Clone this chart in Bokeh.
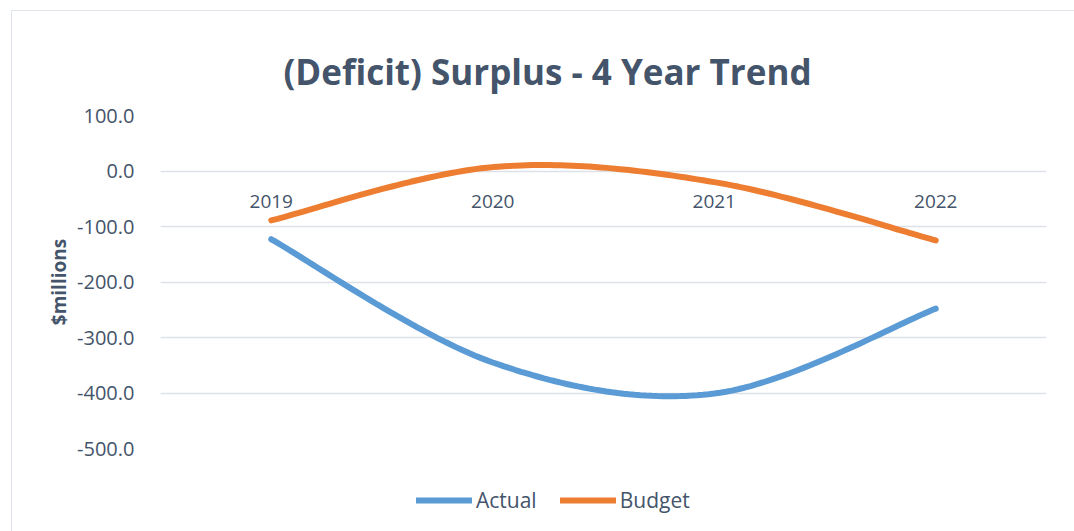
import numpy as np
from bokeh.plotting import figure
from bokeh.layouts import column
from bokeh.models import (Range1d, FixedTicker, NumeralTickFormatter, Legend, LegendItem,
                          ColumnDataSource, Label)
from bokeh.core.properties import value
from bokeh.embed import file_html
from bokeh.resources import INLINE

# ---- data ----
title_text = "(Deficit) Surplus - 4 Year Trend"
years = ["2019", "2020", "2021", "2022"]
actual = [-123, -345, -401, -248]
budget = [-89, 7, -20, -125]
series_names = ["Actual", "Budget"]
y_ticks = [-500, -400, -300, -200, -100, 0, 100]

TEXT = "#44546A"
FONT = "Open Sans"
BLUE = "#5B9BD5"
ORANGE = "#ED7D31"
W = 1062


def smooth(ys, n=40):
    """Excel-like smoothed line (Catmull-Rom as cubic Bezier)."""
    P = np.array([[i, y] for i, y in enumerate(ys)], float)
    m = len(P)
    out = []
    for i in range(m - 1):
        p_prev = P[i - 1] if i > 0 else P[i]
        p_next2 = P[i + 2] if i + 2 < m else P[i + 1]
        c1 = P[i] + (P[i + 1] - p_prev) / 6.0
        c2 = P[i + 1] - (p_next2 - P[i]) / 6.0
        t = np.linspace(0, 1, n)[:, None]
        seg = ((1 - t) ** 3) * P[i] + 3 * ((1 - t) ** 2) * t * c1 + 3 * (1 - t) * t ** 2 * c2 + t ** 3 * P[i + 1]
        out.append(seg if i == 0 else seg[1:])
    arr = np.vstack(out)
    return arr[:, 0], arr[:, 1]


ax, ay = smooth(actual)
bx, by = smooth(budget)


def strip(height):
    f = figure(width=W, height=height, output_backend="svg", toolbar_location=None,
               x_range=Range1d(0, 1), y_range=Range1d(5000, 5001),
               min_border_left=148, min_border_right=28, min_border_top=0, min_border_bottom=0)
    f.axis.visible = False
    f.grid.visible = False
    f.outline_line_color = None
    f.border_fill_color = "white"
    return f


# ---------------- title strip ----------------
tt = strip(90)
tt.add_layout(Label(x=123, y=30, x_units="screen", y_units="screen", text=title_text,
                    text_font=FONT, text_font_style="bold", text_font_size="35px",
                    text_color=TEXT, text_align="left", text_baseline="alphabetic"))

# ---------------- main chart ----------------
p = figure(width=W, height=369, output_backend="svg", toolbar_location=None,
           x_range=Range1d(-0.5, len(years) - 0.5), y_range=Range1d(-500, 100),
           min_border_left=148, min_border_right=28, min_border_top=14, min_border_bottom=22)

p.outline_line_color = None
p.background_fill_color = "white"
p.border_fill_color = "white"

p.xaxis.visible = False
p.xgrid.visible = False
p.ygrid.grid_line_color = "#dde1e7"
p.ygrid.grid_line_width = 1.5

p.yaxis.ticker = FixedTicker(ticks=y_ticks)
p.yaxis.formatter = NumeralTickFormatter(format="0.0")
p.yaxis.axis_line_color = None
p.yaxis.major_tick_line_color = None
p.yaxis.minor_tick_line_color = None
p.yaxis.major_label_standoff = 20
p.yaxis.major_label_text_font = FONT
p.yaxis.major_label_text_font_size = "20px"
p.yaxis.major_label_text_color = TEXT
p.yaxis.axis_label = "$millions"
p.yaxis.axis_label_text_font = FONT
p.yaxis.axis_label_text_font_style = "bold"
p.yaxis.axis_label_text_font_size = "19px"
p.yaxis.axis_label_text_color = TEXT
p.yaxis.axis_label_standoff = 2

p.line(ax, ay, line_color=BLUE, line_width=6, line_cap="round")
p.line(bx, by, line_color=ORANGE, line_width=6, line_cap="round")

# category labels sitting under the zero line
src = ColumnDataSource(dict(x=list(range(len(years))), y=[0] * len(years), t=years))
p.text(x="x", y="y", text="t", source=src, text_align="center", text_baseline="top",
       y_offset=24, text_font=value(FONT), text_font_size="19px", text_color=TEXT)

# ---------------- legend strip ----------------
lg = strip(61)
# same series, lying outside this strip's visible range: only their legend glyphs show
la = lg.line(ax, ay, line_color=BLUE, line_width=6, line_cap="round")
lb = lg.line(bx, by, line_color=ORANGE, line_width=6, line_cap="round")

legend = Legend(items=[LegendItem(label=series_names[0], renderers=[la]),
                       LegendItem(label=series_names[1], renderers=[lb])],
                orientation="horizontal", location=(256, 17))
legend.border_line_color = None
legend.background_fill_alpha = 0
legend.padding = 0
legend.margin = 0
legend.spacing = 23
legend.glyph_width = 56
legend.glyph_height = 20
legend.label_standoff = 4
legend.label_text_font = FONT
legend.label_text_font_size = "21px"
legend.label_text_color = TEXT
lg.add_layout(legend, "center")

layout = column(tt, p, lg, spacing=0, margin=(10, 0, 0, 11),
                styles={"border-top": "1px solid #dfe3ea", "border-left": "1px solid #dfe3ea"})

open("out.html", "w").write(file_html(layout, INLINE))
